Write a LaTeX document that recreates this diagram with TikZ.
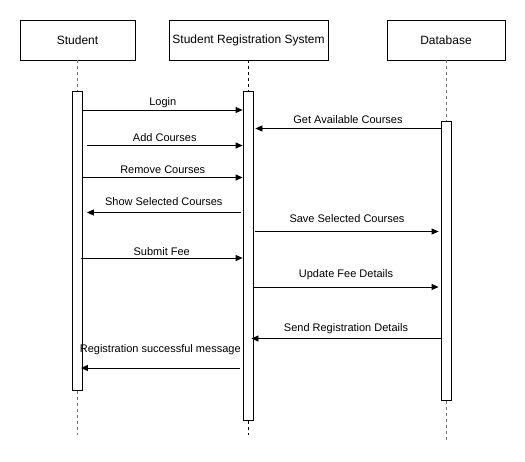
\documentclass[tikz,border=0pt]{standalone}
\usepackage{fontspec}
\setmainfont{Liberation Sans}
\usepackage{tikz}
\usetikzlibrary{arrows.meta, positioning, calc}

\begin{document}
\begin{tikzpicture}[
  x=1pt, y=-1pt,
  actor/.style={rectangle, draw=black, fill=white, line width=0.8pt,
                minimum height=40pt, inner sep=0pt, font=\fontsize{12}{14}\selectfont},
  actbar/.style={rectangle, draw=black, fill=white, line width=0.8pt,
                 minimum width=10pt, inner sep=0pt, anchor=north},
  life/.style={draw=black!55, line width=0.8pt, dash pattern=on 3pt off 3pt},
  msg/.style={-{Triangle[length=7pt,width=6pt]}, line width=0.8pt, color=black},
  lbl/.style={above, inner sep=2pt, font=\fontsize{11}{13}\selectfont, text=black}
]
  \useasboundingbox (0,0) rectangle (525,461);

  \node[actor, minimum width=115pt] (stu) at (77.5,40) {Student};
  \node[actor, minimum width=159pt] (srs) at (248.5,40) {Student Registration System};
  \node[actor, minimum width=118pt] (db) at (446,40) {Database};

  \node[actbar, minimum height=299pt] (stuA) at (77.5,91) {};
  \node[actbar, minimum height=329pt] (srsA) at (248,91) {};
  \node[actbar, minimum height=279pt] (dbA) at (446,121) {};

  \coordinate (stuEnd) at (77.5,435);
  \coordinate (srsEnd) at (248,435);
  \coordinate (dbEnd) at (446,440);

  \draw[life] (stu.south) -- (stuA.north);
  \draw[life] (stuA.south) -- (stuEnd);
  \draw[life, draw=black] (srs.south -| srsA.north) -- (srsA.north);
  \draw[life, draw=black] (srsA.south) -- (srsEnd);
  \draw[life] (db.south) -- (dbA.north);
  \draw[life] (dbA.south) -- (dbEnd);

  % message heights
  \coordinate (m1) at (0,110);
  \coordinate (m2) at (0,128.5);
  \coordinate (m3) at (0,145.5);
  \coordinate (m4) at (0,177.5);
  \coordinate (m5) at (0,212.5);
  \coordinate (m6) at (0,231.5);
  \coordinate (m7) at (0,258);
  \coordinate (m8) at (0,287);
  \coordinate (m9) at (0,338.5);
  \coordinate (m10) at (0,368);

  \draw[msg] (stuA.east |- m1) -- node[lbl] {Login} (srsA.west |- m1);
  \draw[msg] (dbA.west |- m2) -- node[lbl, yshift=2pt] {Get Available Courses} ([xshift=2pt]srsA.east |- m2);
  \draw[msg] ([xshift=4pt]stuA.east |- m3) -- node[lbl, yshift=1pt] {Add Courses} (srsA.west |- m3);
  \draw[msg] (stuA.east |- m4) -- node[lbl, yshift=1pt] {Remove Courses} (srsA.west |- m4);
  \draw[msg] ([xshift=-2pt]srsA.west |- m5) -- node[lbl, yshift=4pt] {Show Selected Courses} ([xshift=4pt]stuA.east |- m5);
  \draw[msg] ([xshift=2pt]srsA.east |- m6) -- node[lbl, yshift=6pt] {Save Selected Courses} ([xshift=-2pt]dbA.west |- m6);
  \draw[msg] ([xshift=-2pt]stuA.east |- m7) -- node[lbl] {Submit Fee} (srsA.west |- m7);
  \draw[msg] (srsA.east |- m8) -- node[lbl, yshift=5pt] {Update Fee Details} ([xshift=-2pt]dbA.west |- m8);
  \draw[msg] (dbA.west |- m9) -- node[lbl, yshift=2pt] {Send Registration Details} ([xshift=-2pt]srsA.east |- m9);
  \draw[msg] ([xshift=-3pt]srsA.west |- m10) -- node[lbl, yshift=11pt] {Registration successful message} ([xshift=-2pt]stuA.east |- m10);
\end{tikzpicture}
\end{document}
